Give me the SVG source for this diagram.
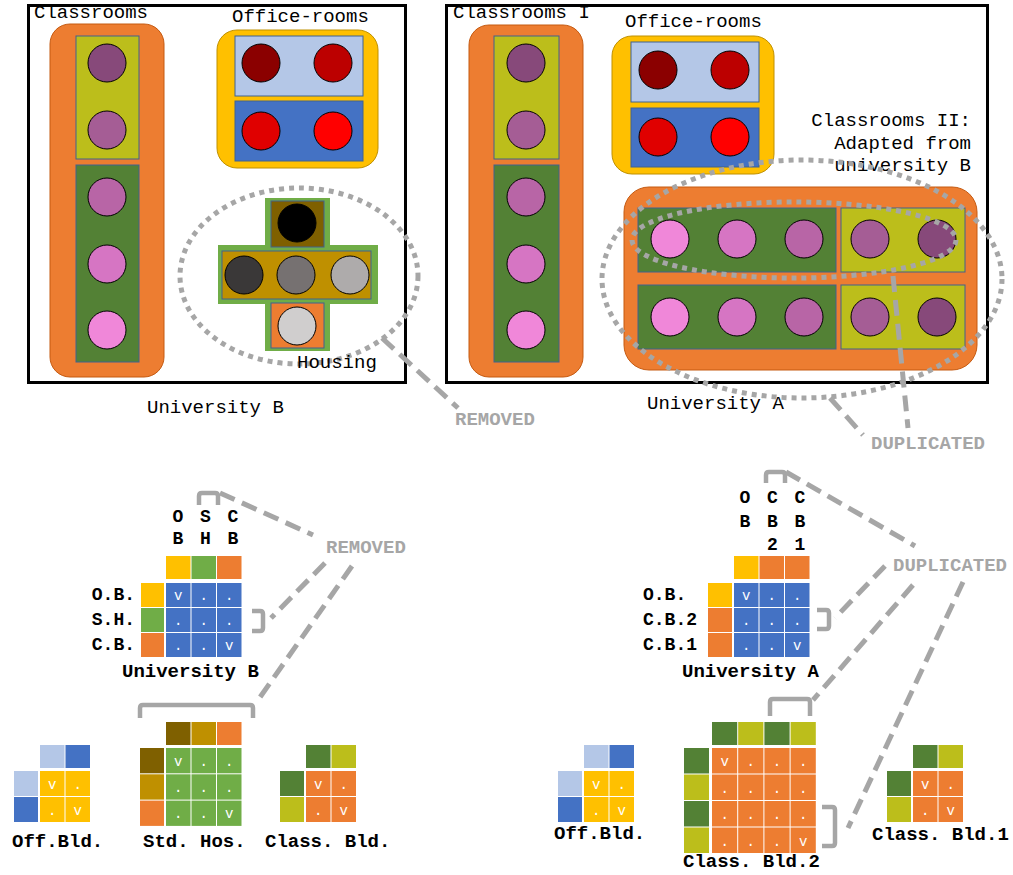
<svg xmlns="http://www.w3.org/2000/svg" width="1013" height="875" viewBox="0 0 1013 875">
<style>
.t{font-family:"Liberation Mono","Courier New",monospace;font-size:19px;fill:#000}
.b{font-family:"Liberation Mono","Courier New",monospace;font-size:19px;font-weight:bold;fill:#000}
.h{font-family:"Liberation Mono","Courier New",monospace;font-size:18px;font-weight:bold;fill:#000}
.g{font-family:"Liberation Mono","Courier New",monospace;font-size:19px;font-weight:bold;fill:#A6A6A6}
.c{font-family:"Liberation Mono","Courier New",monospace;font-size:14px;fill:#fff;text-anchor:middle}
.frame{fill:#fff;stroke:#000;stroke-width:3}
.or{fill:#ED7D31;stroke:#C55A11;stroke-width:1}
.yb{fill:#FFC000;stroke:#BF9000;stroke-width:1}
.ol{fill:#BCBE1B;stroke:#41628F;stroke-width:1}
.dg{fill:#538135;stroke:#41628F;stroke-width:1}
.lb{fill:#B4C7E7;stroke:#41628F;stroke-width:1}
.bl{fill:#4472C4;stroke:#41628F;stroke-width:1}
circle{stroke:#000;stroke-width:1}
.dot{fill:none;stroke:#A6A6A6;stroke-width:5;stroke-dasharray:5 5}
.dash{fill:none;stroke:#A6A6A6;stroke-width:5;stroke-dasharray:16 8}
.br{fill:none;stroke:#A6A6A6;stroke-width:4.5;stroke-linecap:butt}
</style>

<g id="universityB">
<rect class="frame" x="28.5" y="5.5" width="377" height="377"/>
<text class="t" x="34" y="18">Classrooms</text>
<text class="t" x="232" y="22">Office-rooms</text>
<text class="t" x="147" y="413">University B</text>
</g>

<g id="b-classrooms">
<rect class="or" x="50" y="24" width="114" height="353" rx="20"/>
<rect class="ol" x="76" y="36" width="63" height="123"/>
<circle cx="107" cy="63" r="19" fill="#87497A"/>
<circle cx="107" cy="130" r="19" fill="#A55D95"/>
<rect class="dg" x="76" y="165" width="63" height="197"/>
<circle cx="107" cy="197" r="19" fill="#B865A6"/>
<circle cx="107" cy="264" r="19" fill="#D675C3"/>
<circle cx="107" cy="330" r="19" fill="#F087D9"/>
</g>

<g id="b-offices">
<rect class="yb" x="217" y="30" width="161" height="138" rx="20"/>
<rect class="lb" x="235" y="36" width="128" height="60"/>
<circle cx="261" cy="63" r="19" fill="#8B0000"/>
<circle cx="333" cy="63" r="19" fill="#BC0000"/>
<rect class="bl" x="235" y="101" width="128" height="60"/>
<circle cx="261" cy="131" r="19" fill="#E00000"/>
<circle cx="333" cy="131" r="19" fill="#FF0000"/>
</g>

<g id="b-housing">
<polygon points="265,198 330,198 330,245 378,245 378,304 330,304 330,351 265,351 265,304 218,304 218,245 265,245" fill="#70AD47"/>
<rect x="271" y="201" width="53" height="46" fill="#7F6000" stroke="#41628F" stroke-width="1"/>
<circle cx="297" cy="223" r="19" fill="#000"/>
<rect x="222" y="251" width="149" height="48" fill="#BF9000" stroke="#41628F" stroke-width="1"/>
<circle cx="244" cy="275" r="19" fill="#3A3838"/>
<circle cx="296" cy="275" r="19" fill="#767171"/>
<circle cx="350" cy="275" r="19" fill="#AEABAB"/>
<rect x="271" y="303" width="53" height="45" fill="#ED7D31" stroke="#41628F" stroke-width="1"/>
<circle cx="297" cy="326" r="19" fill="#D0CECE"/>
<ellipse class="dot" cx="299" cy="276" rx="119" ry="88"/>
<text class="t" x="297" y="368">Housing</text>
</g>

<g id="universityA">
<rect class="frame" x="446.5" y="5.5" width="541" height="377"/>
<text class="t" x="453" y="18">Classrooms I</text>
<text class="t" x="625" y="27">Office-rooms</text>
<text class="t" x="971" y="126" text-anchor="end">Classrooms II:</text>
<text class="t" x="971" y="148.5" text-anchor="end">Adapted from</text>
<text class="t" x="971" y="171" text-anchor="end">university B</text>
<text class="t" x="647" y="409">University A</text>
</g>

<g id="a-classrooms1">
<rect class="or" x="469" y="25" width="114" height="352" rx="20"/>
<rect class="ol" x="494" y="36" width="65" height="123"/>
<circle cx="526" cy="63" r="19" fill="#87497A"/>
<circle cx="526" cy="130" r="19" fill="#A55D95"/>
<rect class="dg" x="494" y="165" width="65" height="197"/>
<circle cx="526" cy="197" r="19" fill="#B865A6"/>
<circle cx="526" cy="264" r="19" fill="#D675C3"/>
<circle cx="526" cy="330" r="19" fill="#F087D9"/>
</g>

<g id="a-offices">
<rect class="yb" x="612" y="36" width="162" height="138" rx="20"/>
<rect class="lb" x="631" y="42" width="128" height="60"/>
<circle cx="658" cy="70" r="19" fill="#8B0000"/>
<circle cx="730" cy="70" r="19" fill="#BC0000"/>
<rect class="bl" x="631" y="108" width="128" height="59"/>
<circle cx="658" cy="137" r="19" fill="#E00000"/>
<circle cx="730" cy="137" r="19" fill="#FF0000"/>
</g>

<g id="a-classrooms2">
<rect class="or" x="624" y="187" width="353" height="183" rx="25"/>
<rect class="dg" x="638" y="208" width="198" height="64"/>
<rect class="ol" x="841" y="208" width="124" height="64"/>
<rect class="dg" x="638" y="285" width="198" height="64"/>
<rect class="ol" x="841" y="285" width="124" height="64"/>
<circle cx="670" cy="239" r="19" fill="#F087D9"/>
<circle cx="737" cy="239" r="19" fill="#D675C3"/>
<circle cx="804" cy="239" r="19" fill="#B865A6"/>
<circle cx="870" cy="239" r="19" fill="#A55D95"/>
<circle cx="937" cy="239" r="19" fill="#87497A"/>
<circle cx="670" cy="317" r="19" fill="#F087D9"/>
<circle cx="737" cy="317" r="19" fill="#D675C3"/>
<circle cx="804" cy="317" r="19" fill="#B865A6"/>
<circle cx="870" cy="317" r="19" fill="#A55D95"/>
<circle cx="937" cy="317" r="19" fill="#87497A"/>
<ellipse class="dot" cx="802" cy="279" rx="200" ry="119"/>
<ellipse class="dot" cx="794" cy="240" rx="162" ry="38"/>
</g>

<g id="matrixB">
<text class="h" x="178" y="522" text-anchor="middle">O</text>
<text class="h" x="205.5" y="522" text-anchor="middle">S</text>
<text class="h" x="233" y="522" text-anchor="middle">C</text>
<text class="h" x="178" y="544" text-anchor="middle">B</text>
<text class="h" x="205.5" y="544" text-anchor="middle">H</text>
<text class="h" x="233" y="544" text-anchor="middle">B</text>
<rect x="166" y="556" width="24.5" height="23" fill="#FFC000"/>
<rect x="191.5" y="556" width="24.5" height="23" fill="#70AD47"/>
<rect x="217" y="556" width="24.5" height="23" fill="#ED7D31"/>
<rect x="141" y="583" width="23" height="24" fill="#FFC000"/>
<rect x="141" y="608" width="23" height="24" fill="#70AD47"/>
<rect x="141" y="633" width="23" height="24" fill="#ED7D31"/>
<g fill="#4472C4">
<rect x="166" y="583" width="24.5" height="24"/><rect x="191.5" y="583" width="24.5" height="24"/><rect x="217" y="583" width="24.5" height="24"/>
<rect x="166" y="608" width="24.5" height="24"/><rect x="191.5" y="608" width="24.5" height="24"/><rect x="217" y="608" width="24.5" height="24"/>
<rect x="166" y="633" width="24.5" height="24"/><rect x="191.5" y="633" width="24.5" height="24"/><rect x="217" y="633" width="24.5" height="24"/>
</g>
<text class="c" x="178.25" y="600">v</text><text class="c" x="203.75" y="600">.</text><text class="c" x="229.25" y="600">.</text>
<text class="c" x="178.25" y="625">.</text><text class="c" x="203.75" y="625">.</text><text class="c" x="229.25" y="625">.</text>
<text class="c" x="178.25" y="650">.</text><text class="c" x="203.75" y="650">.</text><text class="c" x="229.25" y="650">v</text>
<text class="h" x="135" y="600" text-anchor="end">O.B.</text>
<text class="h" x="135" y="625" text-anchor="end">S.H.</text>
<text class="h" x="135" y="650" text-anchor="end">C.B.</text>
<text class="b" x="122" y="677">University B</text>
</g>

<g id="matrixA">
<text class="h" x="745" y="503" text-anchor="middle">O</text>
<text class="h" x="772.5" y="503" text-anchor="middle">C</text>
<text class="h" x="800" y="503" text-anchor="middle">C</text>
<text class="h" x="745" y="527" text-anchor="middle">B</text>
<text class="h" x="772.5" y="527" text-anchor="middle">B</text>
<text class="h" x="800" y="527" text-anchor="middle">B</text>
<text class="h" x="772.5" y="550" text-anchor="middle">2</text>
<text class="h" x="800" y="550" text-anchor="middle">1</text>
<rect x="734" y="556" width="24.5" height="23" fill="#FFC000"/>
<rect x="759.5" y="556" width="24.5" height="23" fill="#ED7D31"/>
<rect x="785" y="556" width="24.5" height="23" fill="#ED7D31"/>
<rect x="708" y="583" width="24" height="24" fill="#FFC000"/>
<rect x="708" y="608" width="24" height="24" fill="#ED7D31"/>
<rect x="708" y="633" width="24" height="24" fill="#ED7D31"/>
<g fill="#4472C4">
<rect x="734" y="583" width="24.5" height="24"/><rect x="759.5" y="583" width="24.5" height="24"/><rect x="785" y="583" width="24.5" height="24"/>
<rect x="734" y="608" width="24.5" height="24"/><rect x="759.5" y="608" width="24.5" height="24"/><rect x="785" y="608" width="24.5" height="24"/>
<rect x="734" y="633" width="24.5" height="24"/><rect x="759.5" y="633" width="24.5" height="24"/><rect x="785" y="633" width="24.5" height="24"/>
</g>
<text class="c" x="746.25" y="600">v</text><text class="c" x="771.75" y="600">.</text><text class="c" x="797.25" y="600">.</text>
<text class="c" x="746.25" y="625">.</text><text class="c" x="771.75" y="625">.</text><text class="c" x="797.25" y="625">.</text>
<text class="c" x="746.25" y="650">.</text><text class="c" x="771.75" y="650">.</text><text class="c" x="797.25" y="650">v</text>
<text class="h" x="643" y="600">O.B.</text>
<text class="h" x="643" y="625">C.B.2</text>
<text class="h" x="643" y="650">C.B.1</text>
<text class="b" x="682" y="677">University A</text>
</g>

<g id="offBldB">
<rect x="40" y="745" width="24.5" height="23" fill="#B4C7E7"/>
<rect x="65.5" y="745" width="24.5" height="23" fill="#4472C4"/>
<rect x="14" y="771" width="24" height="25" fill="#B4C7E7"/>
<rect x="14" y="797" width="24" height="25" fill="#4472C4"/>
<g fill="#FFC000">
<rect x="40" y="771" width="24.5" height="25"/><rect x="65.5" y="771" width="24.5" height="25"/>
<rect x="40" y="797" width="24.5" height="25"/><rect x="65.5" y="797" width="24.5" height="25"/>
</g>
<text class="c" x="52.25" y="789">v</text><text class="c" x="77.75" y="789">.</text>
<text class="c" x="52.25" y="815">.</text><text class="c" x="77.75" y="815">v</text>
<text class="b" x="12" y="847">Off.Bld.</text>
</g>

<g id="stdHos">
<rect x="166" y="722" width="24.5" height="23" fill="#7F6000"/>
<rect x="191.5" y="722" width="24.5" height="23" fill="#BF9000"/>
<rect x="217" y="722" width="24.5" height="23" fill="#ED7D31"/>
<rect x="140" y="748" width="24" height="25.3" fill="#7F6000"/>
<rect x="140" y="774.3" width="24" height="25.3" fill="#BF9000"/>
<rect x="140" y="800.6" width="24" height="25.3" fill="#ED7D31"/>
<g fill="#70AD47">
<rect x="166" y="748" width="24.5" height="25.3"/><rect x="191.5" y="748" width="24.5" height="25.3"/><rect x="217" y="748" width="24.5" height="25.3"/>
<rect x="166" y="774.3" width="24.5" height="25.3"/><rect x="191.5" y="774.3" width="24.5" height="25.3"/><rect x="217" y="774.3" width="24.5" height="25.3"/>
<rect x="166" y="800.6" width="24.5" height="25.3"/><rect x="191.5" y="800.6" width="24.5" height="25.3"/><rect x="217" y="800.6" width="24.5" height="25.3"/>
</g>
<text class="c" x="178.25" y="766">v</text><text class="c" x="203.75" y="766">.</text><text class="c" x="229.25" y="766">.</text>
<text class="c" x="178.25" y="792">.</text><text class="c" x="203.75" y="792">.</text><text class="c" x="229.25" y="792">.</text>
<text class="c" x="178.25" y="818">.</text><text class="c" x="203.75" y="818">.</text><text class="c" x="229.25" y="818">v</text>
<text class="b" x="143" y="847">Std. Hos.</text>
</g>

<g id="classBldB">
<rect x="306" y="745" width="24.5" height="23" fill="#538135"/>
<rect x="331.5" y="745" width="24.5" height="23" fill="#BCBE1B"/>
<rect x="280" y="771" width="24" height="25" fill="#538135"/>
<rect x="280" y="797" width="24" height="25" fill="#BCBE1B"/>
<g fill="#ED7D31">
<rect x="306" y="771" width="24.5" height="25"/><rect x="331.5" y="771" width="24.5" height="25"/>
<rect x="306" y="797" width="24.5" height="25"/><rect x="331.5" y="797" width="24.5" height="25"/>
</g>
<text class="c" x="318.25" y="789">v</text><text class="c" x="343.75" y="789">.</text>
<text class="c" x="318.25" y="815">.</text><text class="c" x="343.75" y="815">v</text>
<text class="b" x="265" y="847">Class. Bld.</text>
</g>

<g id="offBldA">
<rect x="584" y="745" width="24.5" height="23" fill="#B4C7E7"/>
<rect x="609.5" y="745" width="24.5" height="23" fill="#4472C4"/>
<rect x="558" y="771" width="24" height="25" fill="#B4C7E7"/>
<rect x="558" y="797" width="24" height="25" fill="#4472C4"/>
<g fill="#FFC000">
<rect x="584" y="771" width="24.5" height="25"/><rect x="609.5" y="771" width="24.5" height="25"/>
<rect x="584" y="797" width="24.5" height="25"/><rect x="609.5" y="797" width="24.5" height="25"/>
</g>
<text class="c" x="596.25" y="789">v</text><text class="c" x="621.75" y="789">.</text>
<text class="c" x="596.25" y="815">.</text><text class="c" x="621.75" y="815">v</text>
<text class="b" x="554" y="839">Off.Bld.</text>
</g>

<g id="classBld2">
<rect x="712" y="722" width="25.2" height="23" fill="#538135"/>
<rect x="738.2" y="722" width="25.2" height="23" fill="#BCBE1B"/>
<rect x="764.4" y="722" width="25.2" height="23" fill="#538135"/>
<rect x="790.6" y="722" width="25.2" height="23" fill="#BCBE1B"/>
<rect x="684" y="748" width="25" height="25.5" fill="#538135"/>
<rect x="684" y="774.5" width="25" height="25.5" fill="#BCBE1B"/>
<rect x="684" y="801" width="25" height="25.5" fill="#538135"/>
<rect x="684" y="827.5" width="25" height="25.5" fill="#BCBE1B"/>
<g fill="#ED7D31">
<rect x="712" y="748" width="25.2" height="25.5"/><rect x="738.2" y="748" width="25.2" height="25.5"/><rect x="764.4" y="748" width="25.2" height="25.5"/><rect x="790.6" y="748" width="25.2" height="25.5"/>
<rect x="712" y="774.5" width="25.2" height="25.5"/><rect x="738.2" y="774.5" width="25.2" height="25.5"/><rect x="764.4" y="774.5" width="25.2" height="25.5"/><rect x="790.6" y="774.5" width="25.2" height="25.5"/>
<rect x="712" y="801" width="25.2" height="25.5"/><rect x="738.2" y="801" width="25.2" height="25.5"/><rect x="764.4" y="801" width="25.2" height="25.5"/><rect x="790.6" y="801" width="25.2" height="25.5"/>
<rect x="712" y="827.5" width="25.2" height="25.5"/><rect x="738.2" y="827.5" width="25.2" height="25.5"/><rect x="764.4" y="827.5" width="25.2" height="25.5"/><rect x="790.6" y="827.5" width="25.2" height="25.5"/>
</g>
<text class="c" x="724.6" y="766">v</text><text class="c" x="750.8" y="766">.</text><text class="c" x="777" y="766">.</text><text class="c" x="803.2" y="766">.</text>
<text class="c" x="724.6" y="792.5">.</text><text class="c" x="750.8" y="792.5">.</text><text class="c" x="777" y="792.5">.</text><text class="c" x="803.2" y="792.5">.</text>
<text class="c" x="724.6" y="819">.</text><text class="c" x="750.8" y="819">.</text><text class="c" x="777" y="819">.</text><text class="c" x="803.2" y="819">.</text>
<text class="c" x="724.6" y="845.5">.</text><text class="c" x="750.8" y="845.5">.</text><text class="c" x="777" y="845.5">.</text><text class="c" x="803.2" y="845.5">v</text>
<text class="b" x="683" y="867">Class. Bld.2</text>
</g>

<g id="classBld1">
<rect x="913" y="745" width="24.5" height="23" fill="#538135"/>
<rect x="938.5" y="745" width="24.5" height="23" fill="#BCBE1B"/>
<rect x="887" y="771" width="24" height="25" fill="#538135"/>
<rect x="887" y="797" width="24" height="25" fill="#BCBE1B"/>
<g fill="#ED7D31">
<rect x="913" y="771" width="24.5" height="25"/><rect x="938.5" y="771" width="24.5" height="25"/>
<rect x="913" y="797" width="24.5" height="25"/><rect x="938.5" y="797" width="24.5" height="25"/>
</g>
<text class="c" x="925.25" y="789">v</text><text class="c" x="950.75" y="789">.</text>
<text class="c" x="925.25" y="815">.</text><text class="c" x="950.75" y="815">v</text>
<text class="b" x="872" y="840">Class. Bld.1</text>
</g>

<g id="connectors">
<line class="dash" x1="382" y1="338" x2="458" y2="408"/>
<line class="dash" x1="893" y1="276" x2="908" y2="428"/>
<line class="dash" x1="830" y1="398" x2="863" y2="435"/>
<text class="g" x="455" y="425">REMOVED</text>
<text class="g" x="871" y="449">DUPLICATED</text>

<path class="br" d="M199,505 V496 Q199,493 202,493 H215 Q218,493 218,496 V505"/>
<path class="br" d="M252,611 H260 Q263,611 263,614 V628 Q263,631 260,631 H252"/>
<path class="br" d="M140,718 V708 Q140,705 143,705 H250 Q253,705 253,708 V718"/>
<line class="dash" x1="220" y1="493" x2="313" y2="535"/>
<line class="dash" x1="325" y1="563" x2="271" y2="618"/>
<line class="dash" x1="352" y1="566" x2="256" y2="703"/>
<text class="g" x="326" y="553">REMOVED</text>

<path class="br" d="M766,483 V475 Q766,472 769,472 H782 Q785,472 785,475 V483"/>
<path class="br" d="M817,610 H826 Q829,610 829,613 V626 Q829,629 826,629 H817"/>
<path class="br" d="M770,716 V702 Q770,699 773,699 H807 Q810,699 810,702 V716"/>
<path class="br" d="M822,807 H832 Q835,807 835,810 V843 Q835,846 832,846 H822"/>
<line class="dash" x1="786" y1="472" x2="915" y2="546"/>
<line class="dash" x1="885" y1="566" x2="835" y2="618"/>
<line class="dash" x1="913" y1="585" x2="813" y2="700"/>
<line class="dash" x1="963" y1="582" x2="848" y2="828"/>
<text class="g" x="893" y="571">DUPLICATED</text>
</g>
</svg>
